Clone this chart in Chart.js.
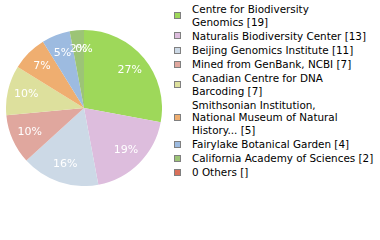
<!DOCTYPE html>
<html>
<head>
<meta charset="utf-8">
<script src="https://cdn.jsdelivr.net/npm/chart.js@4/dist/chart.umd.min.js"></script>
<style>
    html, body { margin: 0; padding: 0; background: #fff; }
    body { width: 380px; height: 240px; position: relative; overflow: hidden; }
    #pie-box { position: absolute; left: 6px; top: 30px; width: 156px; height: 156px; }
    #legenda { position: absolute; left: 174px; top: 3px; width: 206px;
        font: 10.4px 'DejaVu Sans', sans-serif; color: #000; }
    .item { display: flex; align-items: center; margin-bottom: 1.5px; }
    .quad { width: 5px; height: 5px; border: 1px solid #808080; flex: none; margin-right: 11px; }
    .texto { line-height: 12.6px; white-space: nowrap; }
</style>
</head>
<body>
<div id="pie-box"><canvas id="pieChart"></canvas></div>
<div id="legenda"></div>
<script>
// dados
const nomes = ['Centre for Biodiversity Genomics', 'Naturalis Biodiversity Center', 'Beijing Genomics Institute',
    'Mined from GenBank, NCBI', 'Canadian Centre for DNA Barcoding',
    'Smithsonian Institution, National Museum of Natural History...', 'Fairylake Botanical Garden',
    'California Academy of Sciences', '0 Others'];
const contagens = [19, 13, 11, 7, 7, 5, 4, 2, 0];
const rotulosLegenda = ['[19]', '[13]', '[11]', '[7]', '[7]', '[5]', '[4]', '[2]', '[]'];
const cores = ['#9ed85a', '#ddbddd', '#ccd9e6', '#e0a79e', '#dde09d', '#efae70', '#9dbbe0', '#9cc476', '#d9705a'];

const total = contagens.reduce((a, b) => a + b, 0);

// quebra o nome por número de caracteres (máx. 30 por linha), como na figura original
function quebrarNome(nome, max) {
    const linhas = [];
    let atual = '';
    nome.split(' ').forEach(p => {
        if (atual && (atual + ' ' + p).length > max) {
            linhas.push(atual);
            atual = p;
        } else {
            atual = atual ? atual + ' ' + p : p;
        }
    });
    linhas.push(atual);
    return linhas;
}

// Legenda em HTML
const elLegenda = document.getElementById('legenda');
nomes.forEach((nome, i) => {
    const linhas = quebrarNome(nome, 30);
    linhas[linhas.length - 1] += ' ' + rotulosLegenda[i];
    const item = document.createElement('div');
    item.className = 'item';
    item.innerHTML = `<div class="quad" style="background:${cores[i]}"></div><div class="texto">${linhas.join('<br>')}</div>`;
    elLegenda.appendChild(item);
});

// Plugin que escreve a porcentagem dentro de cada fatia
const rotuloPorcentagem = {
    id: 'rotuloPorcentagem',
    afterDatasetsDraw(chart) {
        const ctx = chart.ctx;
        const meta = chart.getDatasetMeta(0);
        ctx.save();
        ctx.fillStyle = '#fff';
        ctx.font = "11px 'DejaVu Sans', sans-serif";
        ctx.textAlign = 'center';
        ctx.textBaseline = 'middle';
        meta.data.forEach((arc, i) => {
            const p = arc.getProps(['x', 'y', 'startAngle', 'endAngle', 'outerRadius'], true);
            const meio = (p.startAngle + p.endAngle) / 2;
            const d = p.outerRadius * 0.76;
            const pct = Math.floor(contagens[i] / total * 100);
            ctx.fillText(pct + '%', p.x + Math.cos(meio) * d, p.y + Math.sin(meio) * d);
        });
        ctx.restore();
    }
};

new Chart(document.getElementById('pieChart'), {
    type: 'pie',
    data: {
        labels: nomes,
        datasets: [{
            data: contagens,
            backgroundColor: cores,
            borderWidth: 0
        }]
    },
    options: {
        responsive: true,
        maintainAspectRatio: false,
        animation: false,
        layout: { padding: 0 },
        plugins: {
            legend: { display: false },
            tooltip: { enabled: false }
        }
    },
    plugins: [rotuloPorcentagem]
});
</script>
</body>
</html>
